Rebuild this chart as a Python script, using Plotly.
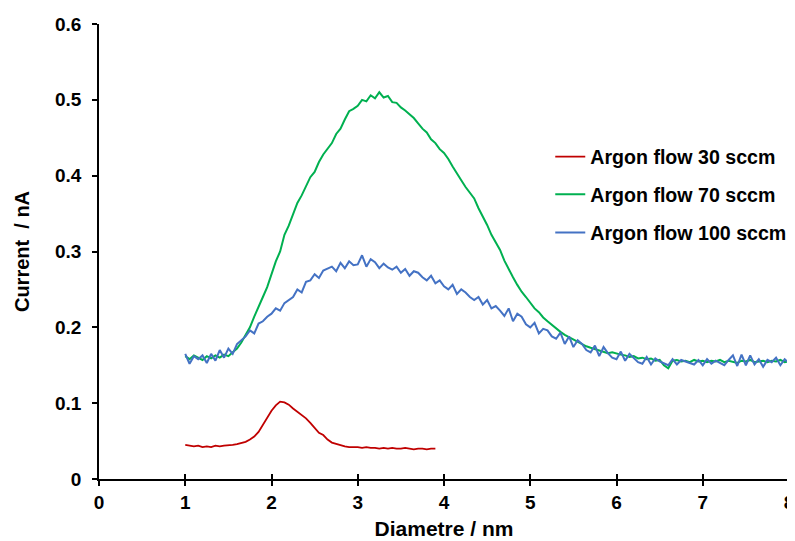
import plotly.graph_objects as go

# ---- data ----
x_start = 1.0
x_step = 0.05

flow30_label = "Argon flow 30 sccm"
flow70_label = "Argon flow 70 sccm"
flow100_label = "Argon flow 100 sccm"

current_30 = [
    0.045, 0.044, 0.043, 0.044, 0.042, 0.043, 0.042, 0.044, 0.043, 0.044,
    0.044, 0.045, 0.046, 0.047, 0.049, 0.052, 0.056, 0.062, 0.071, 0.081,
    0.090, 0.097, 0.102, 0.101, 0.098, 0.093, 0.089, 0.085, 0.080, 0.074,
    0.068, 0.061, 0.058, 0.052, 0.048, 0.046, 0.044, 0.043, 0.042, 0.042,
    0.042, 0.041, 0.042, 0.041, 0.041, 0.040, 0.041, 0.040, 0.041, 0.040,
    0.040, 0.041, 0.040, 0.039, 0.040, 0.040, 0.039, 0.040, 0.040,
]

current_70 = [
    0.162, 0.158, 0.163, 0.160, 0.157, 0.162, 0.159, 0.163, 0.160, 0.164,
    0.162, 0.167, 0.172, 0.180, 0.190, 0.200, 0.214, 0.226, 0.240, 0.253,
    0.270, 0.287, 0.300, 0.322, 0.334, 0.350, 0.364, 0.374, 0.386, 0.398,
    0.405, 0.418, 0.428, 0.436, 0.443, 0.455, 0.462, 0.474, 0.485, 0.488,
    0.492, 0.500, 0.498, 0.506, 0.502, 0.510, 0.503, 0.505, 0.497, 0.496,
    0.490, 0.486, 0.481, 0.476, 0.469, 0.462, 0.457, 0.448, 0.443, 0.435,
    0.430, 0.422, 0.412, 0.402, 0.394, 0.385, 0.378, 0.370, 0.357, 0.347,
    0.335, 0.322, 0.312, 0.302, 0.288, 0.276, 0.266, 0.256, 0.247, 0.240,
    0.232, 0.225, 0.220, 0.213, 0.208, 0.203, 0.198, 0.194, 0.190, 0.187,
    0.183, 0.181, 0.178, 0.175, 0.173, 0.171, 0.169, 0.168, 0.166, 0.167,
    0.165, 0.164, 0.163, 0.161, 0.162, 0.159, 0.160, 0.158, 0.159, 0.156,
    0.157, 0.150, 0.146, 0.156, 0.157, 0.155, 0.156, 0.154, 0.157, 0.155,
    0.156, 0.154, 0.156, 0.155, 0.157, 0.154, 0.156, 0.155, 0.153, 0.156,
    0.155, 0.157, 0.154, 0.155, 0.156, 0.154, 0.156, 0.155, 0.157, 0.154,
    0.155,
]

current_100 = [
    0.165, 0.152, 0.162, 0.158, 0.163, 0.153, 0.165, 0.156, 0.170, 0.160,
    0.172, 0.165, 0.178, 0.183, 0.188, 0.196, 0.192, 0.205, 0.208, 0.214,
    0.218, 0.225, 0.222, 0.232, 0.236, 0.240, 0.250, 0.246, 0.260, 0.262,
    0.270, 0.265, 0.275, 0.278, 0.280, 0.274, 0.285, 0.278, 0.287, 0.282,
    0.283, 0.295, 0.280, 0.290, 0.286, 0.278, 0.284, 0.279, 0.276, 0.280,
    0.272, 0.277, 0.268, 0.274, 0.272, 0.266, 0.262, 0.268, 0.258, 0.262,
    0.254, 0.250, 0.256, 0.244, 0.250, 0.246, 0.240, 0.236, 0.240, 0.230,
    0.236, 0.225, 0.228, 0.222, 0.215, 0.225, 0.208, 0.218, 0.214, 0.204,
    0.200, 0.206, 0.192, 0.198, 0.196, 0.188, 0.185, 0.193, 0.178, 0.188,
    0.174, 0.183, 0.178, 0.170, 0.167, 0.176, 0.162, 0.174, 0.166, 0.160,
    0.158, 0.168, 0.156, 0.165, 0.160, 0.154, 0.152, 0.161, 0.151, 0.159,
    0.155, 0.152, 0.150, 0.158, 0.151, 0.157, 0.155, 0.152, 0.151, 0.157,
    0.150, 0.158, 0.152, 0.156, 0.153, 0.150, 0.157, 0.163, 0.149, 0.164,
    0.150, 0.163, 0.151, 0.158, 0.148, 0.157, 0.154, 0.160, 0.150, 0.158,
    0.153,
]

x_ticks = [0, 1, 2, 3, 4, 5, 6, 7, 8]
y_ticks = [0, 0.1, 0.2, 0.3, 0.4, 0.5, 0.6]
y_tick_text = ["0", "0.1", "0.2", "0.3", "0.4", "0.5", "0.6"]


def grid(n):
    return [round(x_start + i * x_step, 2) for i in range(n)]


FONT = "Liberation Sans, Arial, sans-serif"

fig = go.Figure()
fig.add_trace(go.Scatter(x=grid(len(current_30)), y=current_30, mode="lines",
                         name="<b>%s</b>" % flow30_label,
                         line=dict(color="#C00000", width=1.8), legend="legend"))
fig.add_trace(go.Scatter(x=grid(len(current_70)), y=current_70, mode="lines",
                         name="<b>%s</b>" % flow70_label,
                         line=dict(color="#00B050", width=2), legend="legend2"))
fig.add_trace(go.Scatter(x=grid(len(current_100)), y=current_100, mode="lines",
                         name="<b>%s</b>" % flow100_label,
                         line=dict(color="#4472C4", width=2), legend="legend3"))
# invisible helper trace for the inside-tick overlay axis
fig.add_trace(go.Scatter(x=[0, 8], y=[0, 0], mode="lines", xaxis="x2",
                         line=dict(width=0), showlegend=False, hoverinfo="skip"))

legend_common = dict(font=dict(family=FONT, size=19.6, color="black"),
                     bgcolor="rgba(0,0,0,0)", xanchor="left", yanchor="middle",
                     x=0.654, itemwidth=30)

# the page body adds an 8px offset, so the figure is 8px smaller and margins shifted
fig.update_layout(
    width=787, height=533,
    margin=dict(l=91, r=6, t=16, b=62, autoexpand=False),
    paper_bgcolor="white", plot_bgcolor="white",
    font=dict(family=FONT, size=18, color="black"),
    legend=dict(legend_common, y=0.708),
    legend2=dict(legend_common, y=0.625),
    legend3=dict(legend_common, y=0.541),
    xaxis=dict(range=[0, 8], tickvals=x_ticks,
               ticktext=["<b>%d</b>" % t for t in x_ticks],
               ticks="outside", ticklen=5, automargin=False,
               tickwidth=1.5, tickcolor="black", showline=True, linecolor="black",
               linewidth=1.5, showgrid=False, zeroline=False,
               tickfont=dict(family=FONT, size=19, color="black"),
               title=dict(text="<b>Diametre / nm</b>", standoff=10,
                          font=dict(family=FONT, size=21, color="black"))),
    xaxis2=dict(range=[0, 8], tickvals=x_ticks, ticks="inside", ticklen=5,
                tickwidth=1.5, tickcolor="black", showticklabels=False,
                overlaying="x", anchor="y", showgrid=False, zeroline=False,
                showline=False, side="bottom", automargin=False),
    yaxis=dict(range=[0, 0.6], tickvals=y_ticks,
               ticktext=["<b>%s</b>" % t for t in y_tick_text],
               ticks="outside", ticklen=5, tickwidth=1.5, tickcolor="black",
               showline=True, linecolor="black", linewidth=1.5, showgrid=False,
               zeroline=False, automargin=False, ticklabelstandoff=7,
               tickfont=dict(family=FONT, size=19, color="black"),
               title=dict(text="<b>Current  / nA</b>", standoff=20,
                          font=dict(family=FONT, size=20, color="black"))),
    showlegend=True,
)

fig.write_html("out.html")
